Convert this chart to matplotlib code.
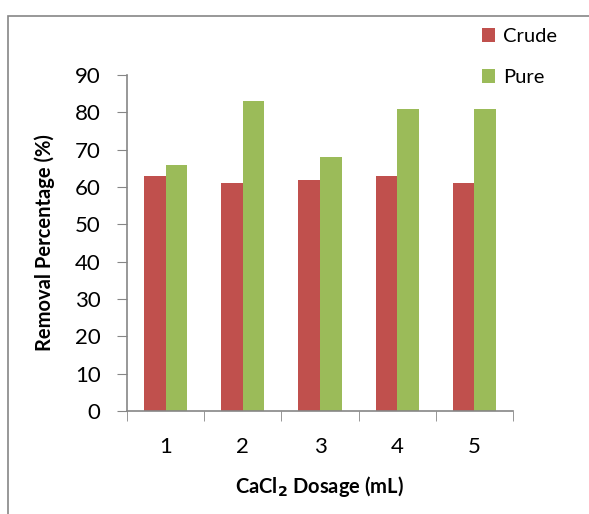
import numpy as np
import matplotlib.pyplot as plt
from matplotlib.patches import Rectangle

# Данные
dosage = ['1', '2', '3', '4', '5']
crude = [63, 61, 62, 63, 61]
pure = [66, 83, 68, 81, 81]

plt.rcParams['font.family'] = ['Lato', 'DejaVu Sans']

W, H = 589, 514
fig = plt.figure(figsize=(W / 100, H / 100), dpi=100)
ax = fig.add_axes([127 / W, 1 - 411 / H, (513 - 127) / W, (411 - 75) / H])

# Рамка вокруг всего графика
fig.patches.append(Rectangle((8 / W, -0.1), 1.2, 1 - 16 / H + 0.1,
                             transform=fig.transFigure, fill=False,
                             edgecolor='#868686', lw=1.2))

x = np.arange(1, len(dosage) + 1)
w = 0.28
ax.bar(x - w / 2, crude, w, color='#C0504D', label='Crude')
ax.bar(x + w / 2, pure, w, color='#9BBB59', label='Pure')

ax.set_xlim(0.5, 5.5)
ax.set_ylim(0, 90)
ax.set_yticks(range(0, 91, 10))
ax.set_xticks(x)
ax.set_xticklabels(dosage)
ax.set_xticks(np.arange(0.5, 5.6, 1), minor=True)
ax.tick_params(axis='x', which='major', length=0, labelsize=16, pad=19)
ax.tick_params(axis='x', which='minor', length=7, direction='out', color='#868686')
ax.tick_params(axis='y', length=7, direction='out', color='#868686', labelsize=16, pad=12)

for s in ['top', 'right']:
    ax.spines[s].set_visible(False)
for s in ['left', 'bottom']:
    ax.spines[s].set_color('#868686')
    ax.spines[s].set_linewidth(1.2)

ax.set_xlabel('CaCl$_\\mathbf{2}$ Dosage (mL)', fontsize=14.5, fontweight='bold', labelpad=12)
ax.set_ylabel('Removal Percentage (%)', fontsize=14.5, fontweight='bold', labelpad=14)

fig.legend(loc='upper left', bbox_to_anchor=(464 / W, 1 - 10 / H), frameon=False,
           fontsize=14.5, labelspacing=1.2, handlelength=0.65, handleheight=0.65,
           handletextpad=0.4)

plt.savefig('out.png', dpi=100)
